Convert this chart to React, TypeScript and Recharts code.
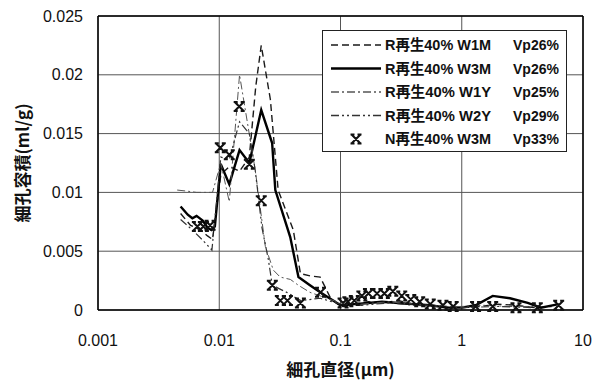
import {
  ComposedChart,
  Line,
  Scatter,
  XAxis,
  YAxis,
  CartesianGrid,
  ReferenceLine,
  Legend,
  Label
} from 'recharts'

const xTicks = [0.001, 0.01, 0.1, 1, 10]
const yTicks = [0, 0.005, 0.01, 0.015, 0.02, 0.025]

const seriesNames = ['R再生40% W1M', 'R再生40% W3M', 'R再生40% W1Y', 'R再生40% W2Y', 'N再生40% W3M']
const vpLabels = ['Vp26%', 'Vp26%', 'Vp25%', 'Vp29%', 'Vp33%']

// R再生40% W1M
const w1mDiam = [0.0048, 0.0058, 0.007, 0.008, 0.0088, 0.0103, 0.0121, 0.0147, 0.0177, 0.02, 0.0222, 0.0264, 0.0306, 0.0408, 0.0467, 0.056, 0.068, 0.082, 0.1, 0.13, 0.17, 0.22, 0.3, 0.4, 0.55, 0.75, 1.0, 1.4, 2.0, 2.8, 4.0, 5.5]
const w1mVol = [0.0082, 0.0072, 0.0068, 0.0063, 0.006, 0.0115, 0.0122, 0.0118, 0.013, 0.019, 0.0225, 0.0179, 0.0102, 0.0068, 0.0031, 0.0029, 0.0028, 0.0011, 0.0003, 0.0005, 0.0007, 0.0006, 0.0008, 0.0005, 0.0004, 0.0003, 0.0002, 0.0003, 0.0005, 0.0004, 0.0002, 0.0003]

// R再生40% W3M
const w3mDiam = [0.0048, 0.0055, 0.006, 0.0065, 0.0073, 0.008, 0.0086, 0.0092, 0.0103, 0.0121, 0.0147, 0.0177, 0.0222, 0.0273, 0.029, 0.0385, 0.045, 0.056, 0.068, 0.1, 0.13, 0.17, 0.22, 0.3, 0.4, 0.55, 0.75, 1.0, 1.3, 1.8, 2.5, 3.5, 4.5, 6.3]
const w3mVol = [0.0088, 0.0081, 0.0078, 0.008, 0.0076, 0.007, 0.0068, 0.0071, 0.0124, 0.0107, 0.0136, 0.0125, 0.017, 0.0142, 0.0102, 0.0062, 0.0028, 0.0021, 0.0015, 0.0004, 0.0005, 0.0006, 0.0007, 0.0006, 0.0005, 0.0004, 0.0002, 0.0002, 0.0004, 0.0012, 0.001, 0.0006, 0.0002, 0.0005]

// R再生40% W1Y
const w1yDiam = [0.0045, 0.0055, 0.0065, 0.0075, 0.0088, 0.0103, 0.0121, 0.0147, 0.0198, 0.024, 0.0279, 0.0318, 0.0386, 0.045, 0.056, 0.068, 0.1, 0.15, 0.25, 0.4, 0.7, 1.0, 1.5, 2.5, 4.0]
const w1yVol = [0.0102, 0.0101, 0.01, 0.01, 0.01, 0.0125, 0.0092, 0.02, 0.0119, 0.0054, 0.0034, 0.0028, 0.0026, 0.0021, 0.0015, 0.0012, 0.0006, 0.0005, 0.0007, 0.0005, 0.0003, 0.0003, 0.0004, 0.0003, 0.0003]

// R再生40% W2Y
const w2yDiam = [0.0048, 0.006, 0.0072, 0.0087, 0.0103, 0.0121, 0.0147, 0.0177, 0.0198, 0.0225, 0.0254, 0.0272, 0.03, 0.036, 0.047, 0.068, 0.1, 0.15, 0.25, 0.4, 0.7, 1.0, 2.0, 4.0]
const w2yVol = [0.0077, 0.0068, 0.006, 0.0051, 0.013, 0.0128, 0.016, 0.015, 0.0119, 0.007, 0.0043, 0.0023, 0.0019, 0.0015, 0.0008, 0.001, 0.0005, 0.0004, 0.0006, 0.0004, 0.0003, 0.0002, 0.0003, 0.0002]

// N再生40% W3M (markers only)
const nDiam = [0.0066, 0.0074, 0.0084, 0.0102, 0.0121, 0.0146, 0.0177, 0.0222, 0.0274, 0.0319, 0.0365, 0.0467, 0.0684, 0.105, 0.115, 0.13, 0.15, 0.17, 0.2, 0.23, 0.27, 0.32, 0.38, 0.45, 0.55, 0.7, 0.85, 1.3, 1.8, 2.8, 4.2, 6.3]
const nVol = [0.0071, 0.0071, 0.0072, 0.0138, 0.0132, 0.0173, 0.0124, 0.0093, 0.0021, 0.0008, 0.0008, 0.0006, 0.0015, 0.0006, 0.0007, 0.0008, 0.0012, 0.0014, 0.0014, 0.0014, 0.0016, 0.0012, 0.0009, 0.0007, 0.0005, 0.0004, 0.0003, 0.0003, 0.0003, 0.0002, 0.0002, 0.0004]

const toPoints = (d: number[], v: number[]) => d.map((x, i) => ({ d: x, v: v[i] }))

const w1m = toPoints(w1mDiam, w1mVol)
const w3m = toPoints(w3mDiam, w3mVol)
const w1y = toPoints(w1yDiam, w1yVol)
const w2y = toPoints(w2yDiam, w2yVol)
const nw3m = toPoints(nDiam, nVol)

const latin = "'Liberation Sans', 'Noto Sans CJK JP', sans-serif"

const lineStyles = [
  { dash: '7 4', width: 1.4, color: '#1a1a1a' },
  { dash: undefined, width: 2.4, color: '#000' },
  { dash: '8 3 2 3', width: 1, color: '#555' },
  { dash: '8 3 2 3 2 3', width: 1.2, color: '#333' }
]

function XMark(props: any) {
  const { cx, cy } = props
  if (cx == null || cy == null) return null
  const r = 4.5
  return (
    <path
      d={`M${cx - r},${cy - r}L${cx + r},${cy + r}M${cx + r},${cy - r}L${cx - r},${cy + r}` +
        `M${cx - r - 1},${cy - r}H${cx - r + 3}M${cx + r - 3},${cy - r}H${cx + r + 1}` +
        `M${cx - r - 1},${cy + r}H${cx - r + 3}M${cx + r - 3},${cy + r}H${cx + r + 1}`}
      stroke="#111"
      strokeWidth={2}
      fill="none"
    />
  )
}

function LegendBox() {
  return (
    <svg width={245} height={122}>
      <rect x={0.5} y={0.5} width={244} height={121} fill="#fff" stroke="#222" strokeWidth={1} />
      {seriesNames.map((name, i) => {
        const y = 15 + i * 23.5
        const st = lineStyles[i]
        return (
          <g key={name}>
            {st ? (
              <line x1={9} x2={59} y1={y} y2={y} stroke={st.color} strokeWidth={st.width + 0.3} strokeDasharray={st.dash} />
            ) : (
              <XMark cx={34} cy={y} />
            )}
            <text
              x={63}
              y={y}
              dy="0.36em"
              textLength={106}
              lengthAdjust="spacingAndGlyphs"
              fontFamily={latin}
              fontWeight="bold"
              fontSize={15}
              fill="#111"
            >
              {name}
            </text>
            <text
              x={191}
              y={y}
              dy="0.36em"
              textLength={46}
              lengthAdjust="spacingAndGlyphs"
              fontFamily={latin}
              fontWeight="bold"
              fontSize={15}
              fill="#111"
            >
              {vpLabels[i]}
            </text>
          </g>
        )
      })}
    </svg>
  )
}

export default function App() {
  return (
    <div style={{ position: 'absolute', left: 0, top: 0, background: '#fff' }}>
      <ComposedChart width={602} height={383} margin={{ top: 16, right: 19, left: 8, bottom: 0 }}>
        <CartesianGrid stroke="#555" strokeWidth={1} />
        <XAxis
          dataKey="d"
          type="number"
          scale="log"
          domain={[0.001, 10]}
          ticks={xTicks}
          allowDataOverflow
          height={73}
          tickSize={0}
          tickMargin={25}
          axisLine={{ stroke: '#000', strokeWidth: 1.5 }}
          tick={{ fontFamily: latin, fontSize: 16, fill: '#111' }}
          tickFormatter={(v: number) => String(v)}
        >
          <Label
            value="細孔直径(μm)"
            position="insideBottom"
            offset={7}
            style={{ fontFamily: "'Noto Sans CJK JP', sans-serif", fontWeight: 'bold', fontSize: 17, fill: '#111' }}
          />
        </XAxis>
        <YAxis
          type="number"
          domain={[0, 0.025]}
          ticks={yTicks}
          width={90}
          tickSize={0}
          tickMargin={15}
          axisLine={{ stroke: '#000', strokeWidth: 1.5 }}
          tick={{ fontFamily: latin, fontSize: 16, fill: '#111' }}
          tickFormatter={(v: number) => String(v)}
        >
          <Label
            value="細孔容積(ml/g)"
            angle={-90}
            position="insideLeft"
            offset={15}
            style={{ textAnchor: 'middle', fontFamily: "'Noto Sans CJK JP', sans-serif", fontWeight: 'bold', fontSize: 17, fill: '#111' }}
          />
        </YAxis>
        <ReferenceLine y={0.025} stroke="#000" strokeWidth={1.5} />
        <ReferenceLine x={10} stroke="#000" strokeWidth={1.5} />
        <Line data={w1m} dataKey="v" name={seriesNames[0]} type="linear" dot={false} stroke={lineStyles[0].color} strokeWidth={lineStyles[0].width} strokeDasharray={lineStyles[0].dash} isAnimationActive={false} />
        <Line data={w3m} dataKey="v" name={seriesNames[1]} type="linear" dot={false} stroke={lineStyles[1].color} strokeWidth={lineStyles[1].width} isAnimationActive={false} />
        <Line data={w1y} dataKey="v" name={seriesNames[2]} type="linear" dot={false} stroke={lineStyles[2].color} strokeWidth={lineStyles[2].width} strokeDasharray={lineStyles[2].dash} isAnimationActive={false} />
        <Line data={w2y} dataKey="v" name={seriesNames[3]} type="linear" dot={false} stroke={lineStyles[3].color} strokeWidth={lineStyles[3].width} strokeDasharray={lineStyles[3].dash} isAnimationActive={false} />
        <Scatter data={nw3m} dataKey="v" name={seriesNames[4]} shape={XMark} isAnimationActive={false} />
        <Legend
          layout="vertical"
          align="center"
          verticalAlign="middle"
          wrapperStyle={{ left: 322, top: 30, width: 245, height: 122 }}
          content={() => <LegendBox />}
        />
      </ComposedChart>
    </div>
  )
}
